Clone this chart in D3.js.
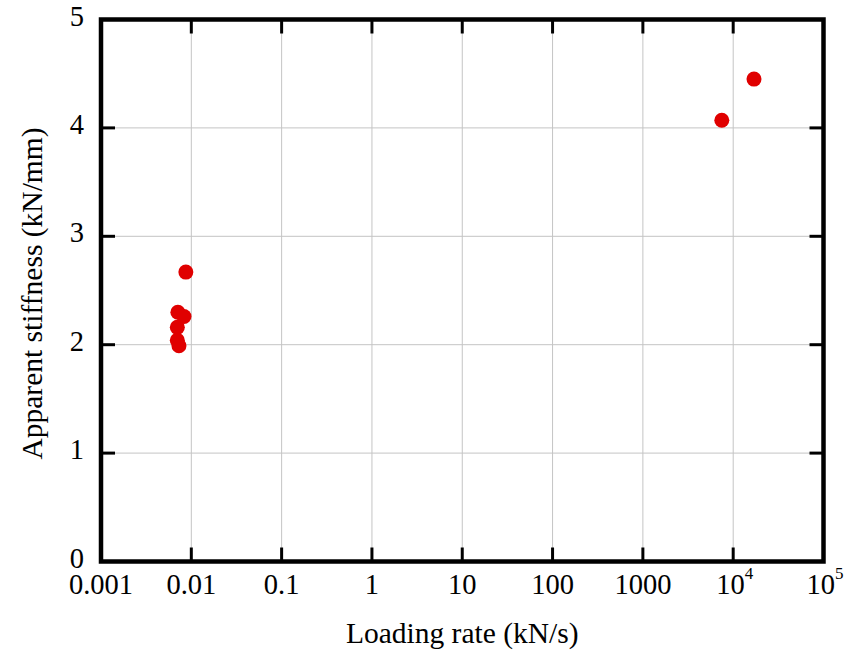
<!DOCTYPE html>
<html>
<head>
<meta charset="utf-8">
<script src="https://cdn.jsdelivr.net/npm/d3@7"></script>
<style>
  html, body { margin: 0; padding: 0; background: #fff; }
  svg { display: block; }
  text { font-family: "Liberation Serif", "Times New Roman", serif; fill: #000; }
</style>
</head>
<body>
<svg id="chart" width="847" height="651"></svg>
<script>
// Loading rate (kN/s) vs apparent stiffness (kN/mm)
const loadingRate = [0.0071, 0.0083, 0.0070, 0.0070, 0.0073, 0.0087, 7480, 17000];
const stiffness   = [2.30,   2.26,   2.16,   2.04,   1.99,   2.67,   4.07, 4.45];

const xTicks = [0.001, 0.01, 0.1, 1, 10, 100, 1000, 1e4, 1e5];
const xTickLabels = ["0.001", "0.01", "0.1", "1", "10", "100", "1000", "10^4", "10^5"];
const yTicks = [0, 1, 2, 3, 4, 5];

const xTitle = "Loading rate (kN/s)";
const yTitle = "Apparent stiffness (kN/mm)";

const svg = d3.select("#chart");
const m = { left: 101, right: 823.5, top: 19.5, bottom: 561.5 };

const x = d3.scaleLog().domain([0.001, 1e5]).range([m.left, m.right]);
const y = d3.scaleLinear().domain([0, 5]).range([m.bottom, m.top]);

const fsTick = 28.5;
const fsTitle = 29.5;
const tickLen = 14;

// grid lines
const grid = svg.append("g").attr("stroke", "#c4c4c4").attr("stroke-width", 1);
grid.selectAll("line.gx").data(xTicks.slice(1, -1)).join("line")
  .attr("x1", d => x(d)).attr("x2", d => x(d))
  .attr("y1", m.top).attr("y2", m.bottom);
grid.selectAll("line.gy").data(yTicks.slice(1, -1)).join("line")
  .attr("x1", m.left).attr("x2", m.right)
  .attr("y1", d => y(d)).attr("y2", d => y(d));

// tick marks pointing inward on all four sides
const ticks = svg.append("g").attr("stroke", "#000").attr("stroke-width", 3);
const innerX = xTicks.slice(1, -1), innerY = yTicks.slice(1, -1);
ticks.selectAll("line.tb").data(innerX).join("line")
  .attr("x1", d => x(d)).attr("x2", d => x(d))
  .attr("y1", m.bottom).attr("y2", m.bottom - tickLen);
ticks.selectAll("line.tt").data(innerX).join("line")
  .attr("x1", d => x(d)).attr("x2", d => x(d))
  .attr("y1", m.top).attr("y2", m.top + tickLen);
ticks.selectAll("line.tl").data(innerY).join("line")
  .attr("x1", m.left).attr("x2", m.left + tickLen)
  .attr("y1", d => y(d)).attr("y2", d => y(d));
ticks.selectAll("line.tr").data(innerY).join("line")
  .attr("x1", m.right).attr("x2", m.right - tickLen)
  .attr("y1", d => y(d)).attr("y2", d => y(d));

// frame
svg.append("rect")
  .attr("x", m.left).attr("y", m.top)
  .attr("width", m.right - m.left).attr("height", m.bottom - m.top)
  .attr("fill", "none").attr("stroke", "#000").attr("stroke-width", 4.5);

// x tick labels (powers shown with superscript)
const xl = svg.append("g").attr("font-size", fsTick);
xTicks.forEach((t, i) => {
  const lab = xTickLabels[i];
  const txt = xl.append("text").attr("y", 594);
  if (lab.includes("^")) {
    const [base, exp] = lab.split("^");
    txt.attr("x", x(t) - 17).attr("text-anchor", "start");
    txt.append("tspan").text(base);
    txt.append("tspan").attr("font-size", 17).attr("dy", -15).text(exp);
  } else {
    txt.attr("x", x(t)).attr("text-anchor", "middle").text(lab);
  }
});

// y tick labels
svg.append("g").attr("font-size", fsTick)
  .selectAll("text").data(yTicks).join("text")
  .attr("x", 84).attr("y", d => y(d) + 6)
  .attr("text-anchor", "end")
  .text(d => d);

// axis titles
svg.append("text")
  .attr("x", (m.left + m.right) / 2).attr("y", 643)
  .attr("text-anchor", "middle").attr("font-size", fsTitle)
  .text(xTitle);
svg.append("text")
  .attr("transform", `translate(42,${(m.top + m.bottom) / 2 + 3}) rotate(-90)`)
  .attr("text-anchor", "middle").attr("font-size", fsTitle)
  .text(yTitle);

// data points
svg.append("g").selectAll("circle")
  .data(loadingRate.map((v, i) => [v, stiffness[i]]))
  .join("circle")
  .attr("cx", d => x(d[0])).attr("cy", d => y(d[1]))
  .attr("r", 7.5).attr("fill", "#e00000");
</script>
</body>
</html>
